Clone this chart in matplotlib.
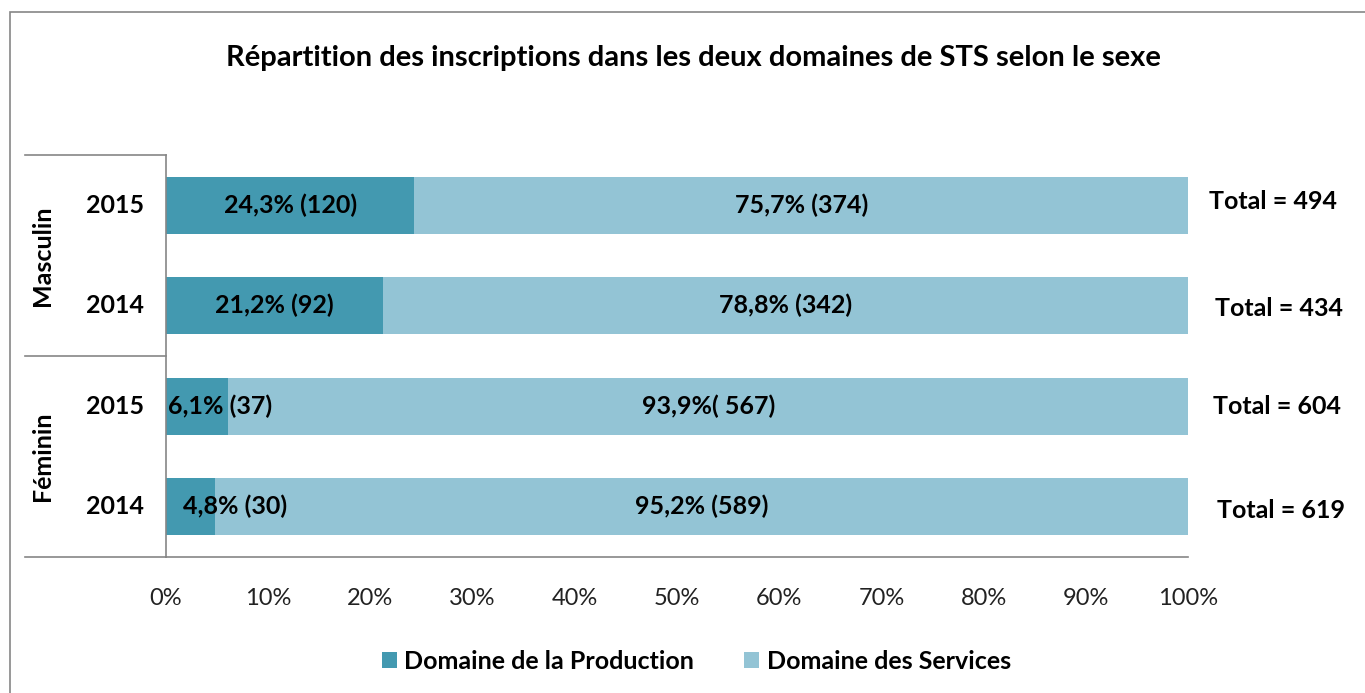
import matplotlib as mpl
mpl.use('Agg')
import matplotlib.pyplot as plt
from matplotlib.patches import Rectangle

plt.rcParams['font.family'] = ['Lato', 'DejaVu Sans']

# données (de bas en haut)
rows = ['F2014', 'F2015', 'M2014', 'M2015']
years = ['2014', '2015', '2014', '2015']
prod_pct = [4.8, 6.1, 21.2, 24.3]
serv_pct = [95.2, 93.9, 78.8, 75.7]
prod_lbl = ['4,8% (30)', '6,1% (37)', '21,2% (92)', '24,3% (120)']
serv_lbl = ['95,2% (589)', '93,9%( 567)', '78,8% (342)', '75,7% (374)']
totals = [619, 604, 434, 494]
groups = ['Féminin', 'Masculin']

c_prod = '#4399B0'
c_serv = '#93C4D5'
c_axis = '#868686'
fs = 18

fig = plt.figure(figsize=(13.65, 6.93), dpi=100)
ax = fig.add_axes([166 / 1365, 1 - 557 / 693, 1022 / 1365, 402 / 693])

y = list(range(len(rows)))
ax.barh(y, prod_pct, height=0.57, color=c_prod, label='Domaine de la Production')
ax.barh(y, serv_pct, left=prod_pct, height=0.57, color=c_serv, label='Domaine des Services')

ax.set_xlim(0, 100)
ax.set_ylim(-0.5, 3.5)

# décalages des étiquettes "Total" (placées à la main dans l'original)
tot_dx = [0.8, 0.4, 0.6, 0.0]
tot_dy = [-0.04, 0.0, -0.03, 0.04]

for i in y:
    if prod_pct[i] > 10:
        ax.text(prod_pct[i] / 2, i, prod_lbl[i], ha='center', va='center',
                fontsize=fs, fontweight='bold')
    else:
        ax.text(0.2 if prod_pct[i] > 5 else 1.7, i, prod_lbl[i], ha='left', va='center',
                fontsize=fs, fontweight='bold')
    ax.text(prod_pct[i] + serv_pct[i] / 2, i, serv_lbl[i], ha='center', va='center',
            fontsize=fs, fontweight='bold')
    ax.text(108.3 + tot_dx[i], i + tot_dy[i], 'Total = %d' % totals[i], ha='center', va='center',
            fontsize=fs, fontweight='bold')

ax.set_xticks(range(0, 101, 10))
ax.set_xticklabels(['%d%%' % v for v in range(0, 101, 10)], fontsize=17, color='#222222')
ax.tick_params(axis='x', length=0, pad=22)
ax.set_yticks([])

for s in ['top', 'right']:
    ax.spines[s].set_visible(False)
ax.spines['left'].set_color(c_axis)
ax.spines['bottom'].set_color(c_axis)
ax.spines['left'].set_linewidth(1.2)
ax.spines['bottom'].set_linewidth(1.2)

# axe des catégories à plusieurs niveaux
ytr = ax.get_yaxis_transform()
x_left = -141 / 1022
for yy in [-0.5, 1.5, 3.5]:
    ax.plot([x_left, 0], [yy, yy], color=c_axis, lw=1.2, transform=ytr, clip_on=False)
for i in y:
    ax.text(-0.05, i, years[i], transform=ytr, ha='center', va='center',
            fontsize=fs, fontweight='bold')
for k, g in enumerate(groups):
    ax.text(-0.121, 2 * k + 0.5, g, transform=ytr, ha='center', va='center',
            rotation=90, fontsize=fs, fontweight='bold')

fig.suptitle('Répartition des inscriptions dans les deux domaines de STS selon le sexe',
             x=0.508, y=0.935, fontsize=21, fontweight='bold')

fig.legend(loc='center', bbox_to_anchor=(0.51, 0.046), ncol=2, frameon=False,
           prop={'size': fs, 'weight': 'bold'}, handlelength=0.6, handleheight=0.6,
           handletextpad=0.3, columnspacing=2.0)

fig.patches.append(Rectangle((10 / 1365, -0.05), 1.0, 1.05 - 12 / 693, transform=fig.transFigure,
                             fill=False, edgecolor=c_axis, lw=1.2))

fig.savefig('out.png', dpi=100)
